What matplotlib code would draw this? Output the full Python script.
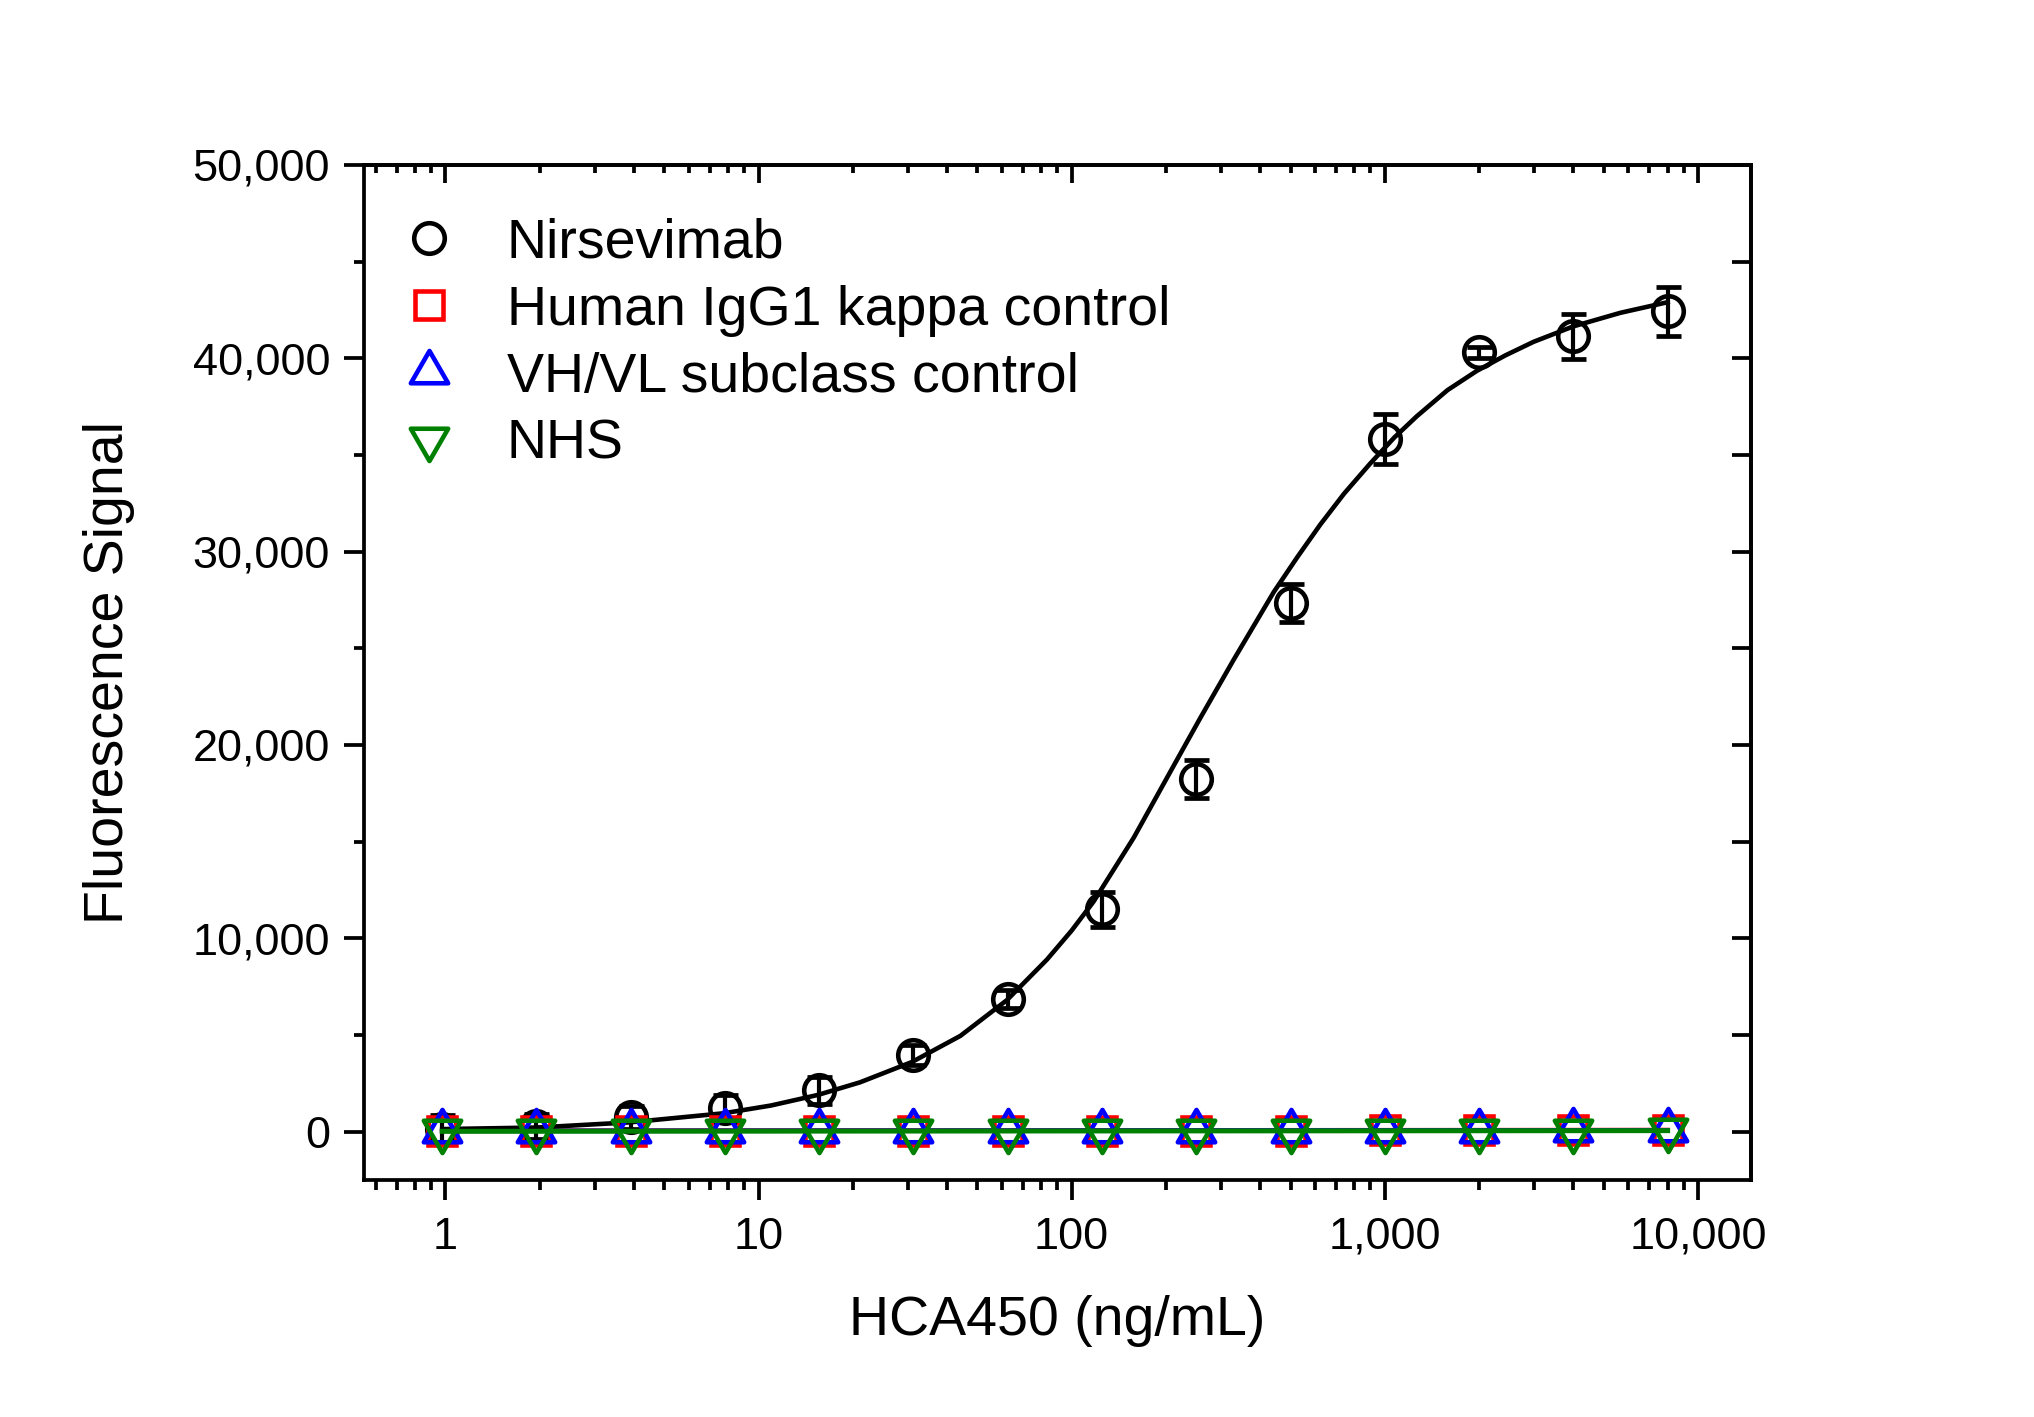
import matplotlib
matplotlib.use("Agg")
import matplotlib.pyplot as plt
from matplotlib.path import Path
from matplotlib.ticker import MultipleLocator, FuncFormatter, LogLocator, NullFormatter

plt.rcParams['font.family'] = ['Liberation Sans', 'DejaVu Sans']

# concentrations (ng/mL), two-fold dilutions
conc = [0.977, 1.95, 3.91, 7.81, 15.6, 31.25, 62.5, 125, 250, 500, 1000, 2000, 4000, 8000]

# mean fluorescence signal and error
nirsevimab = [150, 280, 750, 1200, 2130, 3970, 6860, 11500, 18230, 27340, 35820, 40300, 41130, 42420]
nirsevimab_err = [700, 650, 600, 700, 700, 500, 450, 900, 1000, 1000, 1300, 300, 1150, 1250]
human_igg = [40, 50, 40, 50, 30, 40, 50, 50, 40, 50, 60, 60, 70, 90]
vhvl = [30, 40, 30, 30, 40, 30, 40, 40, 30, 40, 50, 50, 60, 80]
nhs = [10, 20, 10, 10, 20, 10, 10, 20, 10, 20, 20, 30, 40, 60]

# fitted curve
fit_x = [0.977, 1.95, 3.89, 7.76, 10.96, 15.5, 21.1, 30.9, 44.1, 62.1, 83.4, 100,
         117.5, 157.8, 211.3, 257.6, 328.9, 441.6, 524.8, 622.3, 741.3, 897.5,
         1072, 1265, 1585, 1968, 2427, 2985, 4000, 5649, 8000]
fit_y = [130, 210, 480, 950, 1350, 1900, 2550, 3600, 4950, 6800, 8900, 10400,
         11900, 15200, 18900, 21400, 24400, 27900, 29700, 31400, 33000, 34550,
         35900, 37000, 38350, 39350, 40150, 40850, 41650, 42350, 42900]
ctrl_fit_x = [0.977, 8000]
igg_fit = [45, 80]
vhvl_fit = [35, 70]
nhs_fit = [15, 50]

labels = ['Nirsevimab', 'Human IgG1 kappa control', 'VH/VL subclass control', 'NHS']

# triangles centred on their centroid, like Origin does
up_tri = Path([(0, 1), (-0.866, -0.5), (0.866, -0.5), (0, 1)],
              [Path.MOVETO, Path.LINETO, Path.LINETO, Path.CLOSEPOLY])
down_tri = Path([(0, -1), (-0.866, 0.5), (0.866, 0.5), (0, -1)],
                [Path.MOVETO, Path.LINETO, Path.LINETO, Path.CLOSEPOLY])

fig = plt.figure(figsize=(20.34, 14.17), dpi=100)
ax = fig.add_axes([0.179, 0.1673, 0.682, 0.7163])

lw = 3.3
mew = 3.3

# fit lines
ax.plot(ctrl_fit_x, igg_fit, color='red', lw=lw, zorder=2)
ax.plot(ctrl_fit_x, vhvl_fit, color='blue', lw=lw, zorder=2)
ax.plot(fit_x, fit_y, color='black', lw=lw, zorder=3)

# nirsevimab data
ax.errorbar(conc, nirsevimab, yerr=nirsevimab_err, fmt='none', ecolor='black',
            elinewidth=3.0, capsize=9, capthick=3.4, zorder=4)
h1, = ax.plot(conc, nirsevimab, ls='none', marker='o', ms=22, mfc='none',
              mec='black', mew=mew, zorder=4)

# controls
h2, = ax.plot(conc, human_igg, ls='none', marker='s', ms=19.5, mfc='none',
              mec='red', mew=mew, zorder=5)
h3, = ax.plot(conc, vhvl, ls='none', marker=up_tri, ms=31, mfc='none',
              mec='blue', mew=mew, zorder=6)
ax.plot(ctrl_fit_x, nhs_fit, color='green', lw=lw + 0.3, zorder=6)
h4, = ax.plot(conc, nhs, ls='none', marker=down_tri, ms=31, mfc='none',
              mec='green', mew=mew, zorder=7)

ax.set_xscale('log')
ax.set_xlim(0.55, 14800)
ax.set_ylim(-2500, 50000)

ax.yaxis.set_major_locator(MultipleLocator(10000))
ax.yaxis.set_minor_locator(MultipleLocator(5000))
ax.yaxis.set_major_formatter(FuncFormatter(lambda v, p: '{:,.0f}'.format(v)))
ax.xaxis.set_major_locator(LogLocator(base=10, numticks=10))
ax.xaxis.set_minor_locator(LogLocator(base=10, subs=range(2, 10), numticks=20))
ax.xaxis.set_minor_formatter(NullFormatter())
ax.xaxis.set_major_formatter(FuncFormatter(lambda v, p: '{:,.0f}'.format(v)))

ax.tick_params(which='both', direction='out', width=2.7, labelsize=32.5, pad=10)
ax.tick_params(axis='x', pad=12)
ax.tick_params(which='major', length=14.5)
ax.tick_params(which='minor', length=7.5)
for s in ax.spines.values():
    s.set_linewidth(2.7)

# inward ticks on top and right
top = ax.secondary_xaxis('top')
top.xaxis.set_major_locator(LogLocator(base=10, numticks=10))
top.xaxis.set_minor_locator(LogLocator(base=10, subs=range(2, 10), numticks=20))
top.tick_params(which='both', direction='in', width=2.7, labeltop=False)
top.tick_params(which='major', length=13)
top.tick_params(which='minor', length=6)
top.spines['top'].set_linewidth(2.7)

right = ax.secondary_yaxis('right')
right.yaxis.set_major_locator(MultipleLocator(10000))
right.yaxis.set_minor_locator(MultipleLocator(5000))
right.tick_params(which='both', direction='in', width=2.7, length=14, labelright=False)
right.spines['right'].set_linewidth(2.7)

ax.set_xlabel('HCA450 (ng/mL)', fontsize=40)
ax.set_ylabel('Fluorescence Signal', fontsize=40)
ax.xaxis.set_label_coords(0.5, -0.113)
ax.yaxis.set_label_coords(-0.165, 0.5)

ax.legend([h1, h2, h3, h4], labels, loc='upper left', bbox_to_anchor=(0.0267, 0.948),
          frameon=False, fontsize=40, handlelength=1.0, handletextpad=0.9,
          borderpad=0, borderaxespad=0, labelspacing=0.27, numpoints=1)

fig.savefig('out.png', dpi=100)
